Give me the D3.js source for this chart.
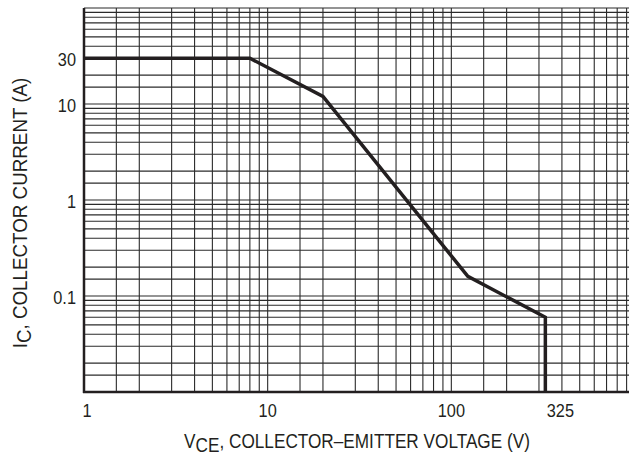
<!DOCTYPE html>
<html>
<head>
<meta charset="utf-8">
<script src="https://cdn.jsdelivr.net/npm/d3@7"></script>
<style>
    body { margin: 0; background: #fff; }
    svg { display: block; }
    text { font-family: "Liberation Sans", Arial, sans-serif; fill: #231f20; }
</style>
</head>
<body>
<div id="chart"></div>
<script>
// Safe operating area curve (V_CE in volts, I_C in amps)
const vce = [1, 8, 20, 123, 325, 325];
const ic = [30, 30, 12, 0.16, 0.06, 0.01];

// Tick labels
const xTickValues = [1, 10, 100, 325];
const yTickValues = [30, 10, 1, 0.1];

// Log paper grid: decades and the lines inside each decade
const xDecades = [1, 10, 100];
const yDecades = [0.01, 0.1, 1, 10];
const gridSteps = [1, 1.5, 2, 3, 4, 5, 6, 7, 8, 9];

const width = 629;
const height = 458;
const narrow = 0.86; // no condensed font installed, squeeze Liberation Sans instead

const svg = d3.select("#chart").append("svg")
    .attr("width", width)
    .attr("height", height);

// Scales (plot runs off the right edge of the picture, like the original)
const x = d3.scaleLog().domain([1, 1000]).range([84, 635]);
const y = d3.scaleLog().domain([0.01, 100]).range([392, 8]);

const xGrid = xDecades.flatMap(d => gridSteps.map(s => d * s)).concat([1000]);
const yGrid = yDecades.flatMap(d => gridSteps.map(s => d * s)).concat([100]);

// Grid lines
svg.append("g")
    .selectAll("line")
    .data(xGrid)
    .enter()
    .append("line")
    .attr("x1", d => x(d))
    .attr("x2", d => x(d))
    .attr("y1", y(100))
    .attr("y2", y(0.01))
    .attr("stroke", "#2b2b2b")
    .attr("stroke-width", 1.1);

svg.append("g")
    .selectAll("line")
    .data(yGrid)
    .enter()
    .append("line")
    .attr("x1", x(1))
    .attr("x2", x(1000))
    .attr("y1", d => y(d))
    .attr("y2", d => y(d))
    .attr("stroke", "#2b2b2b")
    .attr("stroke-width", 1.1);

// Axis frame: left and bottom edges are heavier
svg.append("line")
    .attr("x1", x(1)).attr("x2", x(1))
    .attr("y1", y(100)).attr("y2", y(0.01) + 1)
    .attr("stroke", "#231f20")
    .attr("stroke-width", 2.5);

svg.append("line")
    .attr("x1", x(1) - 1).attr("x2", x(1000))
    .attr("y1", y(0.01)).attr("y2", y(0.01))
    .attr("stroke", "#231f20")
    .attr("stroke-width", 2.5);

// The SOA curve
const line = d3.line()
    .x((d, i) => x(vce[i]))
    .y((d, i) => y(ic[i]));

svg.append("path")
    .datum(vce)
    .attr("d", line)
    .attr("fill", "none")
    .attr("stroke", "#231f20")
    .attr("stroke-width", 3.5)
    .attr("stroke-linejoin", "miter");

// X tick labels
svg.selectAll(".xtick")
    .data(xTickValues)
    .enter()
    .append("text")
    .attr("class", "xtick")
    .attr("transform", d => {
        const dx = d === 325 ? 15 : (d === 1 ? 3 : 0);
        return `translate(${x(d) + dx},417) scale(${narrow},1)`;
    })
    .attr("text-anchor", "middle")
    .attr("font-size", "19px")
    .text(d => d);

// Y tick labels
svg.selectAll(".ytick")
    .data(yTickValues)
    .enter()
    .append("text")
    .attr("class", "ytick")
    .attr("transform", d => `translate(76,${y(d) + 1}) scale(${narrow},1)`)
    .attr("dy", "0.35em")
    .attr("text-anchor", "end")
    .attr("font-size", "19px")
    .text(d => d);

// Axis titles
const xTitle = svg.append("text")
    .attr("transform", `translate(357,448) scale(${narrow},1)`)
    .attr("text-anchor", "middle")
    .attr("font-size", "20px");
xTitle.append("tspan").text("V");
xTitle.append("tspan").attr("dy", 4).text("CE");
xTitle.append("tspan").attr("dy", -4).text(", COLLECTOR\u2013EMITTER VOLTAGE (V)");

const yTitle = svg.append("text")
    .attr("transform", "translate(27,213) rotate(-90) scale(0.94,1)")
    .attr("text-anchor", "middle")
    .attr("font-size", "20px");
yTitle.append("tspan").text("I");
yTitle.append("tspan").attr("dy", 4).text("C");
yTitle.append("tspan").attr("dy", -4).text(", COLLECTOR CURRENT (A)");
</script>
</body>
</html>
